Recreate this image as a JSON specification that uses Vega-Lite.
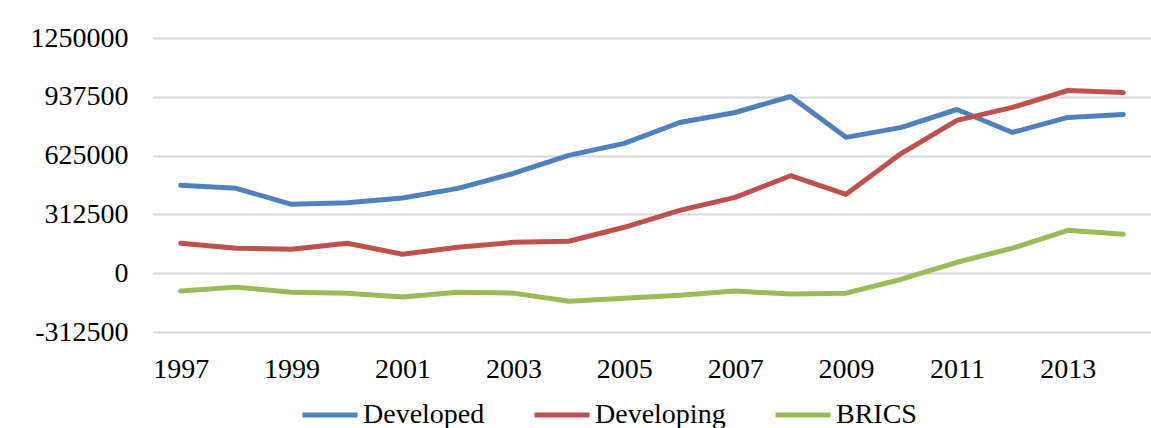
{
  "$schema": "https://vega.github.io/schema/vega-lite/v6.json",
  "width": 998,
  "height": 294,
  "autosize": {"type": "none"},
  "padding": {"left": 153, "top": 38, "right": 0, "bottom": 96},
  "background": "white",
  "config": {
    "view": {"stroke": null},
    "font": "Liberation Serif"
  },
  "data": {
    "values": [
      {"year": 1997, "series": "Developed", "value": 467000},
      {"year": 1998, "series": "Developed", "value": 451000},
      {"year": 1999, "series": "Developed", "value": 366000},
      {"year": 2000, "series": "Developed", "value": 375000},
      {"year": 2001, "series": "Developed", "value": 400000},
      {"year": 2002, "series": "Developed", "value": 451000},
      {"year": 2003, "series": "Developed", "value": 530000},
      {"year": 2004, "series": "Developed", "value": 626000},
      {"year": 2005, "series": "Developed", "value": 690000},
      {"year": 2006, "series": "Developed", "value": 801000},
      {"year": 2007, "series": "Developed", "value": 854000},
      {"year": 2008, "series": "Developed", "value": 939000},
      {"year": 2009, "series": "Developed", "value": 722000},
      {"year": 2010, "series": "Developed", "value": 775000},
      {"year": 2011, "series": "Developed", "value": 870000},
      {"year": 2012, "series": "Developed", "value": 748000},
      {"year": 2013, "series": "Developed", "value": 828000},
      {"year": 2014, "series": "Developed", "value": 844000},
      {"year": 1997, "series": "Developing", "value": 159000},
      {"year": 1998, "series": "Developing", "value": 133000},
      {"year": 1999, "series": "Developing", "value": 127000},
      {"year": 2000, "series": "Developing", "value": 159000},
      {"year": 2001, "series": "Developing", "value": 101000},
      {"year": 2002, "series": "Developing", "value": 138000},
      {"year": 2003, "series": "Developing", "value": 164000},
      {"year": 2004, "series": "Developing", "value": 170000},
      {"year": 2005, "series": "Developing", "value": 244000},
      {"year": 2006, "series": "Developing", "value": 334000},
      {"year": 2007, "series": "Developing", "value": 403000},
      {"year": 2008, "series": "Developing", "value": 518000},
      {"year": 2009, "series": "Developing", "value": 419000},
      {"year": 2010, "series": "Developing", "value": 637000},
      {"year": 2011, "series": "Developing", "value": 812000},
      {"year": 2012, "series": "Developing", "value": 881000},
      {"year": 2013, "series": "Developing", "value": 971000},
      {"year": 2014, "series": "Developing", "value": 960000},
      {"year": 1997, "series": "BRICS", "value": -95000},
      {"year": 1998, "series": "BRICS", "value": -74000},
      {"year": 1999, "series": "BRICS", "value": -101000},
      {"year": 2000, "series": "BRICS", "value": -106000},
      {"year": 2001, "series": "BRICS", "value": -127000},
      {"year": 2002, "series": "BRICS", "value": -101000},
      {"year": 2003, "series": "BRICS", "value": -106000},
      {"year": 2004, "series": "BRICS", "value": -149000},
      {"year": 2005, "series": "BRICS", "value": -133000},
      {"year": 2006, "series": "BRICS", "value": -117000},
      {"year": 2007, "series": "BRICS", "value": -95000},
      {"year": 2008, "series": "BRICS", "value": -111000},
      {"year": 2009, "series": "BRICS", "value": -106000},
      {"year": 2010, "series": "BRICS", "value": -32000},
      {"year": 2011, "series": "BRICS", "value": 58000},
      {"year": 2012, "series": "BRICS", "value": 133000},
      {"year": 2013, "series": "BRICS", "value": 228000},
      {"year": 2014, "series": "BRICS", "value": 207000}
    ]
  },
  "mark": {"type": "line", "strokeWidth": 5, "strokeCap": "round", "strokeJoin": "round"},
  "encoding": {
    "x": {
      "field": "year",
      "type": "ordinal",
      "scale": {"type": "point", "padding": 0.5},
      "axis": {
        "title": null,
        "values": [1997, 1999, 2001, 2003, 2005, 2007, 2009, 2011, 2013],
        "labelAngle": 0,
        "labelFont": "Liberation Serif",
        "labelFontSize": 28,
        "labelColor": "#000000",
        "labelPadding": 23,
        "ticks": false,
        "domain": false,
        "grid": false
      }
    },
    "y": {
      "field": "value",
      "type": "quantitative",
      "scale": {"domain": [-312500, 1250000], "nice": false, "zero": false},
      "axis": {
        "title": null,
        "values": [-312500, 0, 312500, 625000, 937500, 1250000],
        "labelExpr": "'' + datum.value",
        "labelFont": "Liberation Serif",
        "labelFontSize": 28,
        "labelColor": "#000000",
        "labelPadding": 25,
        "ticks": false,
        "domain": false,
        "grid": true,
        "gridColor": "#D9D9D9",
        "gridWidth": 2
      }
    },
    "color": {
      "field": "series",
      "type": "nominal",
      "scale": {
        "domain": ["Developed", "Developing", "BRICS"],
        "range": ["#4F81BD", "#C0504D", "#9BBB59"]
      },
      "legend": {
        "title": null,
        "orient": "none",
        "direction": "horizontal",
        "legendX": 147,
        "legendY": 347,
        "symbolType": "stroke",
        "symbolSize": 3025,
        "symbolStrokeWidth": 5,
        "labelFont": "Liberation Serif",
        "labelFontSize": 28,
        "labelColor": "#000000",
        "labelOffset": 3,
        "columnPadding": 39,
        "labelLimit": 300
      }
    }
  }
}
